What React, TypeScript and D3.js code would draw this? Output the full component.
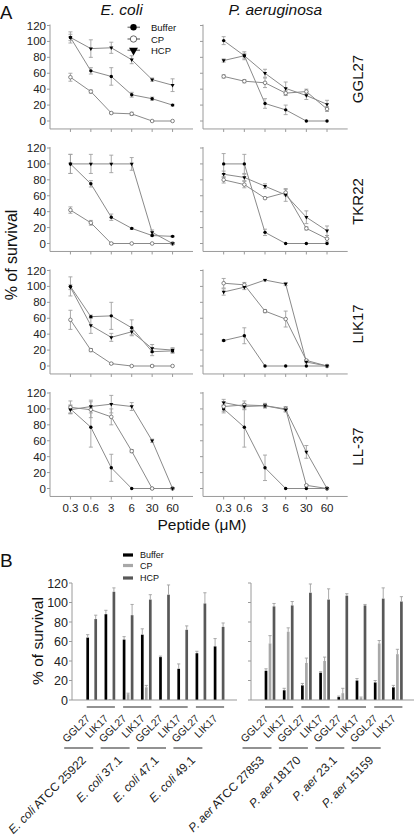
import React from "react";
import * as d3 from "d3";

const concentrations = ["0.3", "0.6", "3", "6", "30", "60"];
const conditions = ["Buffer", "CP", "HCP"];
const speciesTitles = ["E. coli", "P. aeruginosa"];
const peptideRows = ["GGL27", "TKR22", "LIK17", "LL-37"];

// Panel A: each panel holds [Buffer, CP, HCP] means and errors
const ecoliGGL27 = [[105, 63, 56, 33, 28, 20], [55, 37, 10, 9, 0, 0], [105, 91, 92, 77, 52, 45]];
const ecoliGGL27Err = [[4, 4, 11, 3, 2, 1], [5, 2, 1, 2, 0, 0], [7, 11, 7, 5, 2, 8]];
const paerGGL27 = [[101, 82, 22, 14, 0, 0], [56, 50, 48, 35, 37, 15], [76, 82, 60, 41, 32, 21]];
const paerGGL27Err = [[5, 5, 6, 6, 0, 0], [2, 2, 6, 3, 3, 3], [2, 3, 5, 8, 5, 5]];
const ecoliTKR22 = [[100, 75, 33, 19, 10, 9], [42, 26, 0, 0, 0, 0], [100, 100, 100, 100, 14, 0]];
const ecoliTKR22Err = [[12, 4, 4, 1, 1, 1], [4, 3, 1, 0, 0, 0], [12, 12, 11, 8, 3, 1]];
const paerTKR22 = [[100, 100, 14, 0, 0, 0], [80, 74, 57, 64, 19, 6], [87, 83, 72, 61, 33, 16]];
const paerTKR22Err = [[13, 12, 4, 0, 0, 0], [4, 4, 1, 4, 2, 4], [4, 4, 3, 8, 8, 6]];
const ecoliLIK17 = [[100, 62, 63, 48, 18, 19], [58, 20, 3, 0, 0, 0], [99, 51, 36, 43, 22, 20]];
const ecoliLIK17Err = [[12, 2, 17, 10, 5, 3], [12, 2, 1, 0, 1, 0], [3, 10, 5, 4, 5, 3]];
const paerLIK17 = [[32, 38, 0, 0, 0, 0], [104, 102, 69, 59, 7, 0], [93, 99, 108, 103, 5, 0]];
const paerLIK17Err = [[1, 10, 0, 0, 0, 0], [6, 3, 2, 10, 1, 0], [4, 3, 1, 2, 1, 0]];
const ecoliLL37 = [[100, 77, 26, 0, 0, 0], [102, 99, 90, 47, 0, 0], [99, 103, 106, 103, 60, 0]];
const ecoliLL37Err = [[5, 25, 17, 0, 0, 0], [8, 10, 10, 2, 0, 0], [5, 8, 11, 5, 2, 0]];
const paerLL37 = [[100, 77, 26, 0, 0, 0], [103, 105, 104, 100, 4, 0], [108, 103, 104, 99, 46, 0]];
const paerLL37Err = [[5, 25, 16, 0, 0, 0], [6, 5, 3, 3, 1, 0], [4, 4, 2, 3, 8, 0]];

const panelMeans = [
  [ecoliGGL27, paerGGL27],
  [ecoliTKR22, paerTKR22],
  [ecoliLIK17, paerLIK17],
  [ecoliLL37, paerLL37],
];
const panelErrs = [
  [ecoliGGL27Err, paerGGL27Err],
  [ecoliTKR22Err, paerTKR22Err],
  [ecoliLIK17Err, paerLIK17Err],
  [ecoliLL37Err, paerLL37Err],
];

const yTicksA = [0, 20, 40, 60, 80, 100, 120];

// Panel B
const strainPrefixes = ["E. coli", "E. coli", "E. coli", "E. coli", "P. aer", "P. aer", "P. aer", "P. aer"];
const strainSuffixes = [" ATCC 25922", " 37.1", " 47.1", " 49.1", " ATCC 27853", " 18170", " 23.1", " 15159"];
const barPeptides = ["GGL27", "LIK17"];
const bufferVals = [64, 88, 62, 67, 44, 32, 48, 55, 30, 10, 15, 28, 3, 20, 18, 13];
const bufferErr = [3, 4, 3, 6, 1, 5, 2, 8, 2, 2, 2, 1, 1, 2, 2, 2];
const cpVals = [0, 1, 6, 13, 0, 0, 0, 0, 58, 70, 38, 40, 7, 2, 58, 47];
const cpErr = [0, 0, 1, 2, 0, 0, 0, 0, 8, 4, 5, 4, 5, 1, 3, 5];
const hcpVals = [83, 111, 87, 103, 108, 72, 99, 75, 96, 97, 110, 103, 107, 97, 104, 101];
const hcpErr = [4, 4, 11, 5, 10, 4, 11, 4, 3, 4, 9, 11, 2, 1, 11, 5];
const yTicksB = [0, 20, 40, 60, 80, 100, 120];

const FONT = "Liberation Sans, Arial, Helvetica, sans-serif";
const AXIS = "#9a9a9a";
const LINE = "#8a8a8a";
const ERR = "#a0a0a0";

const rowZero = [121, 243.5, 366, 488.5];
const colRange: [number, number][] = [[50, 193], [203, 347.7]];

function Marker({ kind, x, y, big }: { kind: string; x: number; y: number; big?: boolean }) {
  if (kind === "Buffer") return <circle cx={x} cy={y} r={big ? 3.2 : 1.7} fill="#000" />;
  if (kind === "CP")
    return <circle cx={x} cy={y} r={big ? 3.2 : 1.8} fill="#fff" stroke="#666" strokeWidth={big ? 1 : 0.8} />;
  const p = d3.symbol(d3.symbolTriangle, big ? 34 : 7)();
  return <path d={p || ""} transform={`translate(${x},${y}) rotate(180)`} fill="#000" />;
}

function LinePanel({ row, col }: { row: number; col: number }) {
  const zero = rowZero[row];
  const [x0, x1] = colRange[col];
  const x = d3.scalePoint<string>().domain(concentrations).range([x0, x1]).padding(1);
  const y = d3.scaleLinear().domain([0, 120]).range([zero, zero - 95.5]);
  const axisY = y(-10);
  const means = panelMeans[row][col];
  const errs = panelErrs[row][col];
  const line = d3
    .line<number>()
    .x((_, i) => x(concentrations[i]) as number)
    .y((d) => y(d));
  return (
    <g>
      <line x1={x0} x2={x0} y1={y(120) - 1} y2={axisY} stroke={AXIS} strokeWidth={1} />
      <line x1={x0} x2={x1} y1={axisY} y2={axisY} stroke={AXIS} strokeWidth={1} />
      {yTicksA.map((t) => (
        <g key={t}>
          <line x1={x0 - 3} x2={x0} y1={y(t)} y2={y(t)} stroke={AXIS} />
          {col === 0 && (
            <text x={x0 - 4} y={y(t) + 4} fontSize={11.5} textAnchor="end" fill="#222">
              {t}
            </text>
          )}
        </g>
      ))}
      {concentrations.map((c) => (
        <g key={c}>
          <line x1={x(c)} x2={x(c)} y1={axisY} y2={axisY + 3} stroke={AXIS} />
          {row === 3 && (
            <text x={x(c)} y={axisY + 16} fontSize={11.5} textAnchor="middle" fill="#222">
              {c}
            </text>
          )}
        </g>
      ))}
      {conditions.map((k, si) => (
        <path key={k} d={line(means[si]) || ""} fill="none" stroke={LINE} strokeWidth={1} />
      ))}
      {conditions.map((k, si) =>
        means[si].map((m, i) => {
          const e = errs[si][i];
          if (!e) return null;
          const cx = x(concentrations[i]) as number;
          return (
            <g key={k + i} stroke={ERR} strokeWidth={0.9}>
              <line x1={cx} x2={cx} y1={y(m - e)} y2={y(m + e)} />
              <line x1={cx - 2} x2={cx + 2} y1={y(m - e)} y2={y(m - e)} />
              <line x1={cx - 2} x2={cx + 2} y1={y(m + e)} y2={y(m + e)} />
            </g>
          );
        })
      )}
      {conditions.map((k, si) =>
        means[si].map((m, i) => <Marker key={k + "m" + i} kind={k} x={x(concentrations[i]) as number} y={y(m)} />)
      )}
    </g>
  );
}

function BarGroup({ side }: { side: number }) {
  const axisX = side === 0 ? 72 : 251;
  const endX = side === 0 ? 237 : 414;
  const bandStart = side === 0 ? 82.6 : 260.9;
  const y = d3.scaleLinear().domain([0, 120]).range([700, 583]);
  const idx = d3.range(8).map((i) => i + side * 8);
  const xOuter = d3.scaleBand<number>().domain(idx).range([bandStart, bandStart + 8 * 18.2]);
  const xInner = d3.scaleBand<string>().domain(conditions).range([-5.35, 5.35]).paddingInner(0.33);
  const vals: Record<string, number[]> = { Buffer: bufferVals, CP: cpVals, HCP: hcpVals };
  const errs: Record<string, number[]> = { Buffer: bufferErr, CP: cpErr, HCP: hcpErr };
  const colors: Record<string, string> = { Buffer: "#000", CP: "#a8a8a8", HCP: "#585858" };
  const bw = xInner.bandwidth();
  return (
    <g>
      <line x1={axisX} x2={axisX} y1={y(120)} y2={y(0)} stroke={AXIS} />
      {yTicksB.map((t) => (
        <g key={t}>
          <line x1={axisX - 3} x2={axisX} y1={y(t)} y2={y(t)} stroke={AXIS} />
          {side === 0 && (
            <text x={axisX - 4} y={y(t) + 4.5} fontSize={12.5} textAnchor="end" fill="#222">
              {t}
            </text>
          )}
        </g>
      ))}
      {idx.map((gi) => {
        const cx = (xOuter(gi) as number) + xOuter.bandwidth() / 2;
        return (
          <g key={gi}>
            {conditions.map((k) => {
              const v = vals[k][gi];
              const e = errs[k][gi];
              const bx = cx + (xInner(k) as number);
              const mid = bx + bw / 2;
              return (
                <g key={k}>
                  {v > 0 && <rect x={bx} y={y(v)} width={bw} height={y(0) - y(v)} fill={colors[k]} />}
                  {e > 0 && (
                    <g stroke={ERR} strokeWidth={0.9}>
                      <line x1={mid} x2={mid} y1={y(v)} y2={y(v + e)} />
                      <line x1={mid - 1.6} x2={mid + 1.6} y1={y(v + e)} y2={y(v + e)} />
                    </g>
                  )}
                </g>
              );
            })}
          </g>
        );
      })}
      <line x1={axisX} x2={endX} y1={y(0)} y2={y(0)} stroke={AXIS} strokeWidth={1.2} />
      {d3.range(4).map((s) => {
        const g0 = idx[s * 2];
        const g1 = idx[s * 2 + 1];
        const c0 = (xOuter(g0) as number) + xOuter.bandwidth() / 2;
        const c1 = (xOuter(g1) as number) + xOuter.bandwidth() / 2;
        const start = c0 - 4;
        const si = side * 4 + s;
        return (
          <g key={s}>
            <line x1={start - 1} x2={c1 + 5} y1={707} y2={707} stroke="#6e6e6e" strokeWidth={1.5} />
            {[c0, c1].map((c, pi) => (
              <text
                key={pi}
                x={c - 1}
                y={719}
                fontSize={10.5}
                textAnchor="end"
                fill="#222"
                transform={`rotate(-45,${c - 1},719)`}
              >
                {barPeptides[pi]}
              </text>
            ))}
            <line x1={start - 23.5} x2={start + 5.5} y1={748} y2={748} stroke="#6e6e6e" strokeWidth={1.5} />
            <text
              x={start - 1}
              y={761}
              fontSize={12}
              textAnchor="end"
              fill="#222"
              transform={`rotate(-45,${start - 1},761)`}
            >
              <tspan fontStyle="italic">{strainPrefixes[si]}</tspan>
              {strainSuffixes[si]}
            </text>
          </g>
        );
      })}
    </g>
  );
}

export default function App() {
  const legendYA = [27.3, 39, 50.3];
  const legendYB = [555, 565.5, 578];
  const bColors: Record<string, string> = { Buffer: "#000", CP: "#a8a8a8", HCP: "#585858" };
  return (
    <div style={{ position: "absolute", left: 0, top: 0 }}>
      <svg width={416} height={838} style={{ display: "block", fontFamily: FONT }}>
        <rect width={416} height={838} fill="#fff" />
        <text x={0} y={18.5} fontSize={18.5} fill="#111">A</text>
        {speciesTitles.map((s, i) => (
          <text
            key={s}
            x={(colRange[i][0] + colRange[i][1]) / 2}
            y={15}
            fontSize={15.5}
            fontStyle="italic"
            textAnchor="middle"
            fill="#111"
          >
            {s}
          </text>
        ))}
        {peptideRows.map((p, r) => (
          <text
            key={p}
            x={363}
            y={rowZero[r] - 42}
            fontSize={15}
            textAnchor="middle"
            fill="#111"
            transform={`rotate(-90,363,${rowZero[r] - 42})`}
          >
            {p}
          </text>
        ))}
        <text x={17} y={255} fontSize={16} textAnchor="middle" fill="#111" transform="rotate(-90,17,255)">
          % of survival
        </text>
        <text x={202} y={530} fontSize={15.5} textAnchor="middle" fill="#111">
          Peptide (μM)
        </text>
        {peptideRows.map((_, r) => [0, 1].map((c) => <LinePanel key={r + "-" + c} row={r} col={c} />))}
        {conditions.map((k, i) => (
          <g key={k}>
            <line x1={127.5} x2={140} y1={legendYA[i]} y2={legendYA[i]} stroke={LINE} strokeWidth={1.5} />
            <Marker kind={k} x={133.5} y={legendYA[i]} big />
            <text x={151} y={legendYA[i] + 3.5} fontSize={9.5} fill="#111">
              {k}
            </text>
          </g>
        ))}

        <text x={0} y={567} fontSize={19} fill="#111">B</text>
        <text x={43} y={641} fontSize={15.5} textAnchor="middle" fill="#111" transform="rotate(-90,43,641)">
          % of survival
        </text>
        {conditions.map((k, i) => (
          <g key={k}>
            <rect x={123} y={legendYB[i] - 1.6} width={10} height={3.2} fill={bColors[k]} />
            <text x={140} y={legendYB[i] + 3.2} fontSize={9} fill="#111">
              {k}
            </text>
          </g>
        ))}
        <BarGroup side={0} />
        <BarGroup side={1} />
      </svg>
    </div>
  );
}
